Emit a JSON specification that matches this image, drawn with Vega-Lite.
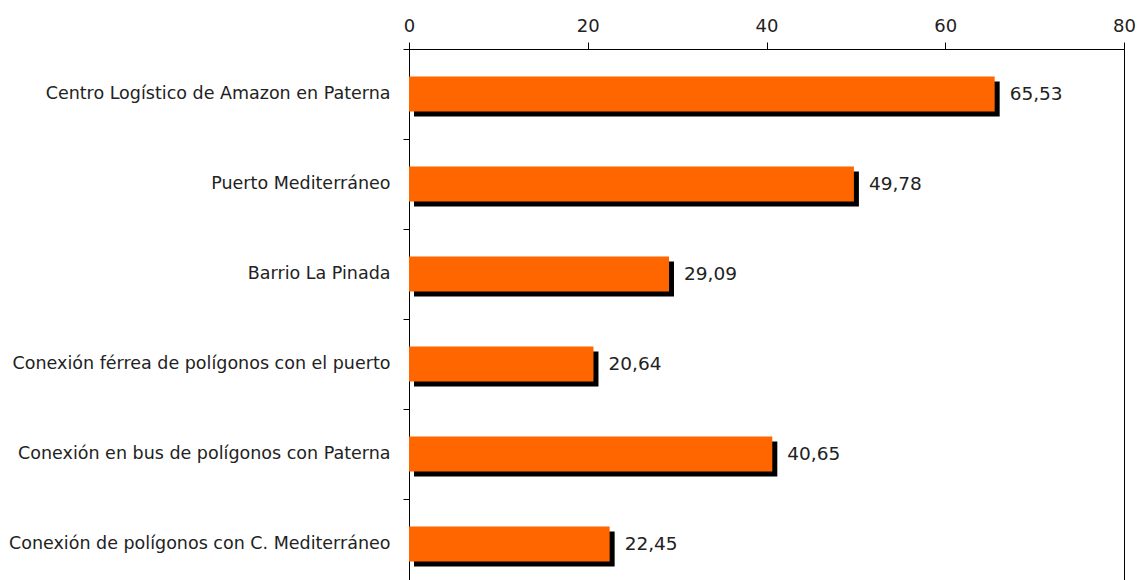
{
  "$schema": "https://vega.github.io/schema/vega-lite/v6.json",
  "width": 715,
  "height": 540,
  "autosize": {"type": "none"},
  "padding": {"left": 409, "top": 49, "right": 15, "bottom": 0},
  "config": {
    "locale": {"number": {"decimal": ",", "thousands": ".", "grouping": [3], "currency": ["", " €"]}},
    "view": {"stroke": "#000", "strokeWidth": 1},
    "font": "DejaVu Sans"
  },
  "data": {"values": [
    {"name": "Centro Logístico de Amazon en Paterna", "value": 65.53},
    {"name": "Puerto Mediterráneo", "value": 49.78},
    {"name": "Barrio La Pinada", "value": 29.09},
    {"name": "Conexión férrea de polígonos con el puerto", "value": 20.64},
    {"name": "Conexión en bus de polígonos con Paterna", "value": 40.65},
    {"name": "Conexión de polígonos con C. Mediterráneo", "value": 22.45}
  ]},
  "resolve": {"axis": {"y": "independent"}},
  "layer": [
    {
      "mark": {"type": "bar", "color": "#000", "xOffset": 5, "yOffset": 5},
      "encoding": {
        "y": {"field": "name", "type": "nominal", "sort": null,
          "scale": {"paddingInner": 0.61, "paddingOuter": 0.305},
          "axis": {"orient": "left", "title": null, "ticks": false, "domain": false, "labelPadding": 19, "labelFontSize": 17.5, "labelColor": "#222", "labelLimit": 420}},
        "x": {"field": "value", "type": "quantitative",
          "scale": {"domain": [0, 80], "nice": false},
          "axis": {"orient": "top", "title": null, "values": [0, 20, 40, 60, 80], "grid": false, "domainColor": "#000", "tickColor": "#000", "tickSize": 7, "labelPadding": 7, "labelFontSize": 18, "labelColor": "#222", "labelFlush": false}}
      }
    },
    {
      "mark": {"type": "bar", "color": "#FF6600"},
      "encoding": {
        "y": {"field": "name", "type": "nominal", "sort": null,
          "axis": {"orient": "left", "title": null, "labels": false, "ticks": true, "bandPosition": -0.782, "tickSize": 6, "tickColor": "#000", "domainColor": "#000"}},
        "x": {"field": "value", "type": "quantitative"}
      }
    },
    {
      "mark": {"type": "text", "align": "left", "baseline": "middle", "dx": 15, "fontSize": 18.5, "color": "#222"},
      "encoding": {
        "y": {"field": "name", "type": "nominal", "sort": null, "axis": null},
        "x": {"field": "value", "type": "quantitative"},
        "text": {"field": "value", "type": "quantitative", "format": ".2f"}
      }
    }
  ]
}
